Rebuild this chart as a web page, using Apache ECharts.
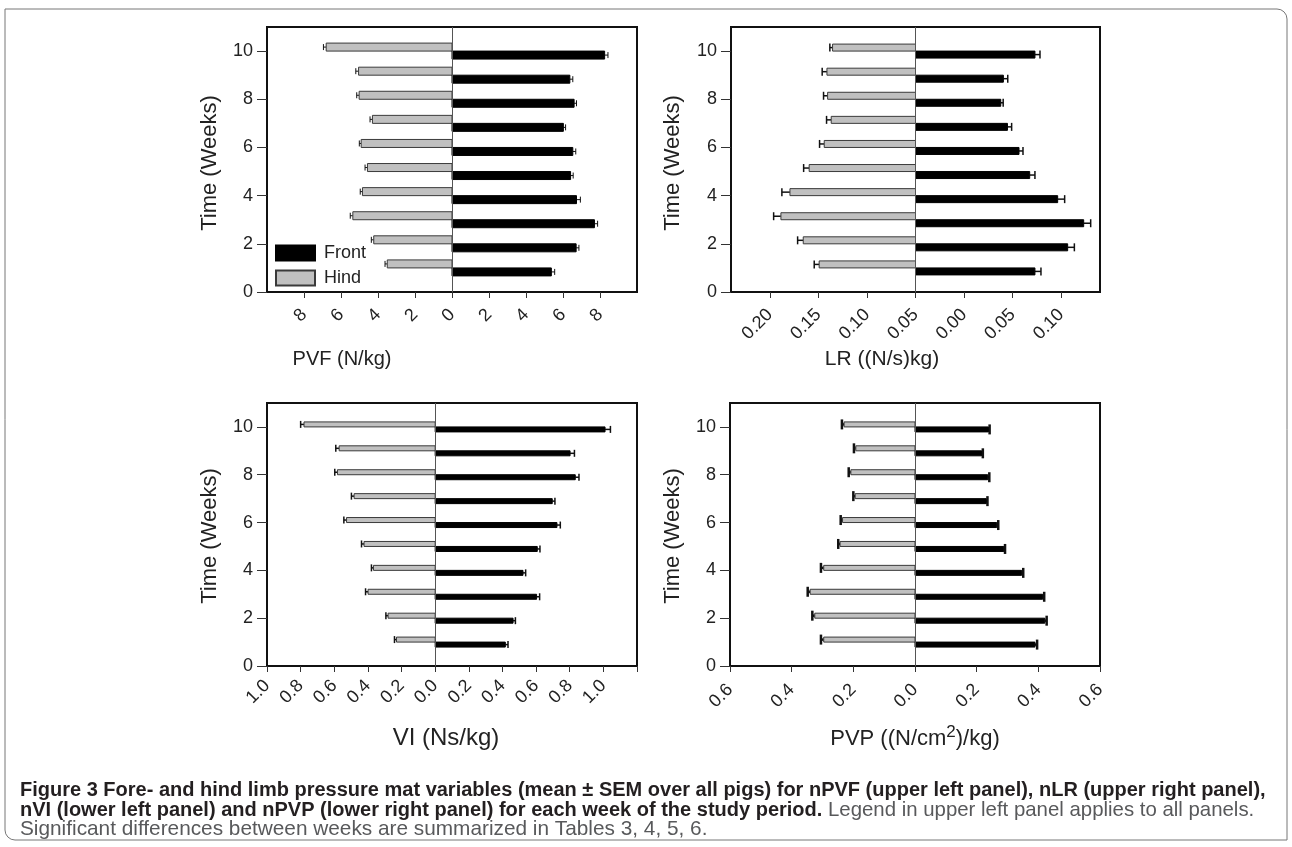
<!DOCTYPE html>
<html><head><meta charset="utf-8">
<script src="https://cdn.jsdelivr.net/npm/echarts@6/dist/echarts.min.js"></script>
<style>html,body{margin:0;padding:0;background:#fff}#c{width:1292px;height:847px}</style>
</head><body><div id="c"></div>
<script>
// ---------- data ----------
const weeks = [1, 2, 3, 4, 5, 6, 7, 8, 9, 10];
const yTicks = [0, 2, 4, 6, 8, 10];

// PVF (N/kg)
const pvfFront    = [5.37, 6.71, 7.70, 6.73, 6.41, 6.53, 6.02, 6.60, 6.37, 8.25];
const pvfFrontSem = [0.18, 0.15, 0.17, 0.21, 0.14, 0.16, 0.12, 0.13, 0.16, 0.18];
const pvfHind     = [3.50, 4.23, 5.36, 4.84, 4.57, 4.91, 4.30, 5.02, 5.05, 6.80];
const pvfHindSem  = [0.12, 0.13, 0.14, 0.12, 0.13, 0.10, 0.13, 0.13, 0.15, 0.15];
const pvfTicks = [-8, -6, -4, -2, 0, 2, 4, 6, 8];

// LR ((N/s)kg)  (distance from centre line, axis units)
const lrFront    = [0.1230, 0.1567, 0.1732, 0.1464, 0.1176, 0.1066, 0.0947, 0.0878, 0.0905, 0.1230];
const lrFrontSem = [0.0062, 0.0069, 0.0072, 0.0072, 0.0054, 0.0041, 0.0043, 0.0025, 0.0045, 0.0052];
const lrHind     = [0.0992, 0.1156, 0.1386, 0.1293, 0.1095, 0.0940, 0.0868, 0.0905, 0.0912, 0.0854];
const lrHindSem  = [0.0051, 0.0058, 0.0075, 0.0083, 0.0057, 0.0048, 0.0048, 0.0042, 0.0049, 0.0028];
const lrTicks = [-0.15, -0.10, -0.05, 0, 0.05, 0.10, 0.15];
const lrTickLabels = ['0.20', '0.15', '0.10', '0.05', '0.00', '0.05', '0.10'];

// VI (Ns/kg)
const viFront    = [0.417, 0.463, 0.603, 0.522, 0.607, 0.724, 0.696, 0.833, 0.802, 1.010];
const viFrontSem = [0.016, 0.014, 0.018, 0.016, 0.016, 0.020, 0.016, 0.022, 0.026, 0.032];
const viHind     = [0.230, 0.280, 0.399, 0.367, 0.423, 0.527, 0.482, 0.581, 0.571, 0.780];
const viHindSem  = [0.012, 0.013, 0.015, 0.012, 0.015, 0.016, 0.016, 0.016, 0.020, 0.020];
const viTicks = [-1.0, -0.8, -0.6, -0.4, -0.2, 0, 0.2, 0.4, 0.6, 0.8, 1.0, 1.2];
const viLabelTicks = [-1.0, -0.8, -0.6, -0.4, -0.2, 0, 0.2, 0.4, 0.6, 0.8, 1.0];

// PVP ((N/cm2)/kg)
const pvpFront    = [0.389, 0.421, 0.414, 0.346, 0.288, 0.265, 0.231, 0.236, 0.216, 0.238];
const pvpFrontSem = [0.007, 0.006, 0.005, 0.005, 0.004, 0.005, 0.004, 0.005, 0.004, 0.004];
const pvpHind     = [0.296, 0.325, 0.340, 0.296, 0.243, 0.235, 0.194, 0.208, 0.192, 0.230];
const pvpHindSem  = [0.009, 0.008, 0.008, 0.009, 0.006, 0.006, 0.006, 0.007, 0.006, 0.007];
const pvpTicks = [-0.6, -0.4, -0.2, 0, 0.2, 0.4, 0.6];

// ---------- styling / layout ----------
const FONT = "'Liberation Sans', Arial, sans-serif";
const grids = [
  { left: 267, top: 27, width: 370, height: 265 },
  { left: 731, top: 27, width: 369, height: 265 },
  { left: 267, top: 403, width: 370, height: 263 },
  { left: 730, top: 403, width: 370, height: 263 }
];
const panelStyle = [
  { barH: 8, capH: 6, wLine: 1 },
  { barH: 7, capH: 8, wLine: 1.5 },
  { barH: 5, capH: 7, wLine: 1.5 },
  { barH: 5, capH: 10, wLine: 2.5 }
];
const xDefs = [
  { min: -10, max: 10, ticks: pvfTicks, labels: pvfTicks, margin: 20, size: 18, fmt: v => String(Math.abs(Math.round(v))) },
  { min: -0.19, max: 0.19, ticks: lrTicks, labels: lrTicks, margin: 20, size: 18, fmt: v => {
      const i = lrTicks.findIndex(t => Math.abs(t - v) < 1e-6); return i >= 0 ? lrTickLabels[i] : ''; } },
  { min: -1.0, max: 1.2, ticks: viTicks, labels: viLabelTicks, margin: 17, size: 18, fmt: v => Math.abs(v).toFixed(1) },
  { min: -0.6, max: 0.6, ticks: pvpTicks, labels: pvpTicks, margin: 21, size: 18, fmt: v => Math.abs(v).toFixed(1) }
];
const panels = [
  [pvfFront, pvfFrontSem, pvfHind, pvfHindSem],
  [lrFront, lrFrontSem, lrHind, lrHindSem],
  [viFront, viFrontSem, viHind, viHindSem],
  [pvpFront, pvpFrontSem, pvpHind, pvpHindSem]
];

function makeRender(side, ps) {
  return function (params, api) {
    const w = api.value(0), m = api.value(1), s = api.value(2);
    const sign = side === 'hind' ? -1 : 1;
    const p0 = api.coord([0, w]);
    const p1 = api.coord([sign * m, w]);
    const p2 = api.coord([sign * (m + s), w]);
    const h = ps.barH;
    const top = side === 'hind' ? p0[1] - h : p0[1];
    const yc = top + h / 2;
    const x0 = Math.min(p0[0], p1[0]);
    const width = Math.abs(p1[0] - p0[0]);
    const isHind = side === 'hind';
    return {
      type: 'group',
      children: [
        { type: 'line', shape: { x1: p1[0], y1: yc, x2: p2[0], y2: yc },
          style: { stroke: '#111', lineWidth: ps.wLine } },
        { type: 'line', shape: { x1: p2[0], y1: yc - ps.capH / 2, x2: p2[0], y2: yc + ps.capH / 2 },
          style: { stroke: '#111', lineWidth: ps.wLine } },
        { type: 'rect', shape: { x: x0, y: top, width: width, height: h },
          style: { fill: isHind ? '#c0c0c0' : '#000', stroke: isHind ? '#3a3a3a' : '#000', lineWidth: 1 } }
      ]
    };
  };
}

const xAxis = [], yAxis = [], series = [];
grids.forEach((g, i) => {
  const d = xDefs[i];
  xAxis.push({
    type: 'value', gridIndex: i, min: d.min, max: d.max,
    axisLine: { show: true, onZero: false, lineStyle: { color: '#111', width: 2 } },
    axisTick: { show: true, length: 6, customValues: d.ticks, lineStyle: { color: '#333', width: 1 } },
    axisLabel: { customValues: d.labels, rotate: 45, margin: d.margin, fontSize: d.size, color: '#222',
      fontFamily: FONT, formatter: d.fmt },
    splitLine: { show: false }
  });
  yAxis.push({
    type: 'value', gridIndex: i, min: 0, max: 11,
    axisLine: { show: true, onZero: false, lineStyle: { color: '#111', width: 2 } },
    axisTick: { show: true, length: 10, customValues: yTicks, lineStyle: { color: '#333', width: 1 } },
    axisLabel: { customValues: yTicks, margin: 14, fontSize: 18, color: '#222', fontFamily: FONT },
    splitLine: { show: false }
  });
  const [f, fs, h, hs] = panels[i];
  series.push({
    type: 'custom', name: 'Hind', xAxisIndex: i, yAxisIndex: i,
    itemStyle: { color: '#c0c0c0', borderColor: '#3a3a3a', borderWidth: 1 },
    renderItem: makeRender('hind', panelStyle[i]),
    data: weeks.map((w, k) => [w, h[k], hs[k]]),
    encode: { y: 0 },
    markLine: { silent: true, symbol: 'none', label: { show: false }, animation: false,
      lineStyle: { color: '#555', width: 1, type: 'solid' }, data: [{ xAxis: 0 }] }
  });
  series.push({
    type: 'custom', name: 'Front', xAxisIndex: i, yAxisIndex: i,
    itemStyle: { color: '#000', borderColor: '#000', borderWidth: 1 },
    renderItem: makeRender('front', panelStyle[i]),
    data: weeks.map((w, k) => [w, f[k], fs[k]]),
    encode: { y: 0 }
  });
});

const titleFont = (sz) => ({ fontFamily: FONT, fontSize: sz, fill: '#222' });
const graphic = [
  { type: 'rect', shape: { x: 5, y: 9, width: 1282, height: 831, r: [0, 10, 0, 10] },
    style: { fill: 'none', stroke: '#777', lineWidth: 1 }, silent: true },
  // y axis names
  { type: 'text', x: 210, y: 163, rotation: Math.PI / 2, style: Object.assign({ text: 'Time (Weeks)', align: 'center', verticalAlign: 'middle' }, titleFont(22)) },
  { type: 'text', x: 673, y: 163, rotation: Math.PI / 2, style: Object.assign({ text: 'Time (Weeks)', align: 'center', verticalAlign: 'middle' }, titleFont(22)) },
  { type: 'text', x: 210, y: 536, rotation: Math.PI / 2, style: Object.assign({ text: 'Time (Weeks)', align: 'center', verticalAlign: 'middle' }, titleFont(22)) },
  { type: 'text', x: 673, y: 536, rotation: Math.PI / 2, style: Object.assign({ text: 'Time (Weeks)', align: 'center', verticalAlign: 'middle' }, titleFont(22)) },
  // x axis names
  { type: 'text', x: 342, y: 359, style: Object.assign({ text: 'PVF (N/kg)', align: 'center', verticalAlign: 'middle' }, titleFont(20)) },
  { type: 'text', x: 882, y: 359, style: Object.assign({ text: 'LR ((N/s)kg)', align: 'center', verticalAlign: 'middle' }, titleFont(21)) },
  { type: 'text', x: 446, y: 738, style: Object.assign({ text: 'VI (Ns/kg)', align: 'center', verticalAlign: 'middle' }, titleFont(24)) },
  { type: 'text', x: 915, y: 737, style: {
      text: '{a|PVP ((N/cm}{s|2}{a|)/kg)}', align: 'center', verticalAlign: 'middle',
      rich: { a: { fontFamily: FONT, fontSize: 22, fill: '#222', verticalAlign: 'bottom', lineHeight: 26 },
              s: { fontFamily: FONT, fontSize: 17, fill: '#222', verticalAlign: 'top', lineHeight: 26 } } } },
  // caption
  { type: 'text', x: 20, y: 790, style: { text: 'Figure 3 Fore- and hind limb pressure mat variables (mean \u00b1 SEM over all pigs) for nPVF (upper left panel), nLR (upper right panel),',
      fontFamily: FONT, fontSize: 20, fontWeight: 'bold', fill: '#231f20', verticalAlign: 'middle' } },
  { type: 'text', x: 20, y: 810, style: { text: '{b|nVI (lower left panel) and nPVP (lower right panel) for each week of the study period.}{n| Legend in upper left panel applies to all panels.}',
      verticalAlign: 'middle',
      rich: { b: { fontFamily: FONT, fontSize: 20, fontWeight: 'bold', fill: '#231f20' },
              n: { fontFamily: FONT, fontSize: 20.4, fill: '#58595b' } } } },
  { type: 'text', x: 20, y: 829, style: { text: 'Significant differences between weeks are summarized in Tables 3, 4, 5, 6.',
      fontFamily: FONT, fontSize: 20.8, fill: '#58595b', verticalAlign: 'middle' } }
];

const chart = echarts.init(document.getElementById('c'), null, { renderer: 'canvas' });
chart.setOption({
  animation: false,
  backgroundColor: '#fff',
  grid: grids.map(g => Object.assign({ show: true, borderColor: '#111', borderWidth: 2, backgroundColor: 'transparent', containLabel: false }, g)),
  legend: {
    data: ['Front', 'Hind'], orient: 'vertical', left: 270, top: 239,
    itemWidth: 39, itemHeight: 15, itemGap: 7, icon: 'rect',
    textStyle: { fontFamily: FONT, fontSize: 18, color: '#222', padding: [0, 0, 0, 4] },
    selectedMode: false
  },
  xAxis, yAxis, series, graphic
});
</script>
</body></html>
